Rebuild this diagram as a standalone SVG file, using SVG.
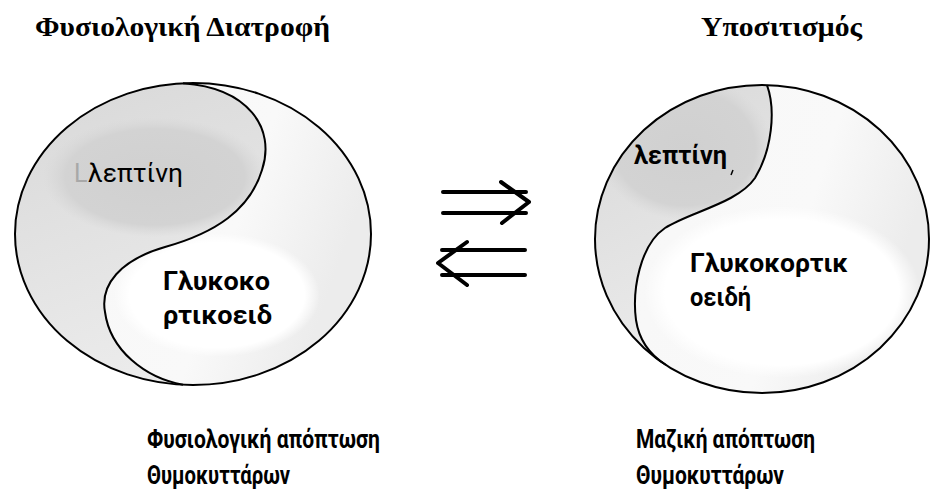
<svg xmlns="http://www.w3.org/2000/svg" width="931" height="490" viewBox="0 0 931 490">
<style>
.title{font-family:"Liberation Serif","Times New Roman",serif;font-weight:bold;font-size:27px;fill:#000}
.cap{font-family:Roboto,"Open Sans",sans-serif;font-weight:bold;font-size:26px;fill:#000}
.lbl{font-family:Roboto,"Open Sans",sans-serif;font-size:25px;fill:#000}
.lblb{font-family:Roboto,"Open Sans",sans-serif;font-weight:bold;font-size:25px;fill:#000}
.outline{fill:none;stroke:#000;stroke-width:2}
.arrow{fill:none;stroke:#000;stroke-width:4;stroke-linecap:round;stroke-linejoin:round}
</style>
<defs>
<linearGradient id="bgR" x1="0" y1="0" x2="1" y2="0.3">
<stop offset="0" stop-color="#f7f7f7"/><stop offset="0.7" stop-color="#f9f9f9"/><stop offset="1" stop-color="#ececec"/>
</linearGradient>
<linearGradient id="grayL" x1="0" y1="0" x2="0.3" y2="1">
<stop offset="0" stop-color="#d8d8d8"/><stop offset="1" stop-color="#ebebeb"/>
</linearGradient>
<radialGradient id="lobeG">
<stop offset="0" stop-color="#d0d0d0"/><stop offset="0.8" stop-color="#d3d3d3"/><stop offset="1" stop-color="#d8d8d8" stop-opacity="0"/>
</radialGradient>
<radialGradient id="whiteG">
<stop offset="0" stop-color="#fff"/><stop offset="0.85" stop-color="#fff"/><stop offset="1" stop-color="#fff" stop-opacity="0"/>
</radialGradient>
<clipPath id="clipL"><path d="M183,83.24 C248,88 276,128 262,170 C250,210 215,233 165,247 C120,260 100,285 105,312 C110,350 145,378 183,384.76 A178 151 0 0 1 183 83.24 Z"/></clipPath>
<clipPath id="clipLR"><path d="M183,83.24 C248,88 276,128 262,170 C250,210 215,233 165,247 C120,260 100,285 105,312 C110,350 145,378 183,384.76 A178 151 0 1 0 183 83.24 Z"/></clipPath>
<clipPath id="clipR"><path d="M767,85.07 C776,110 772,150 755,178 C738,203 690,212 665,228 C640,245 632,290 636,320 C639,340 650,355 666,365 A167 154 0 0 1 767 85.07 Z"/></clipPath>
<clipPath id="clipRR"><path d="M767,85.07 C776,110 772,150 755,178 C738,203 690,212 665,228 C640,245 632,290 636,320 C639,340 650,355 666,365 A167 154 0 1 0 767 85.07 Z"/></clipPath>
</defs>
<rect width="931" height="490" fill="#fff"/>

<g id="title-left"><text class="title" x="35" y="36" textLength="295" lengthAdjust="spacingAndGlyphs">Φυσιολογική Διατροφή</text></g>
<g id="title-right"><text class="title" x="701" y="36" textLength="161" lengthAdjust="spacingAndGlyphs">Υποσιτισμός</text></g>

<g id="node-left">
<ellipse cx="193" cy="234" rx="178" ry="151" fill="url(#bgR)"/>
<path d="M183,83.24 C248,88 276,128 262,170 C250,210 215,233 165,247 C120,260 100,285 105,312 C110,350 145,378 183,384.76 A178 151 0 0 1 183 83.24 Z" fill="url(#grayL)"/>
<g clip-path="url(#clipL)"><ellipse cx="155" cy="177" rx="112" ry="60" fill="url(#lobeG)"/></g>
<g clip-path="url(#clipLR)"><ellipse cx="217" cy="295" rx="103" ry="62" fill="url(#whiteG)"/></g>
<ellipse class="outline" cx="193" cy="234" rx="178" ry="151"/>
<path class="outline" d="M183,83.24 C248,88 276,128 262,170 C250,210 215,233 165,247 C120,260 100,285 105,312 C110,350 145,378 183,384.76"/>
<text x="74" y="182" class="lbl" style="fill:#a8a8a8">L</text>
<text class="lbl" x="88" y="182" textLength="95" lengthAdjust="spacingAndGlyphs">λεπτίνη</text>
<text class="lblb" x="163" y="290" textLength="107" lengthAdjust="spacingAndGlyphs">Γλυκοκο</text>
<text class="lblb" x="163" y="324" textLength="109" lengthAdjust="spacingAndGlyphs">ρτικοειδ</text>
</g>

<g id="node-right">
<ellipse cx="762" cy="239" rx="167" ry="154" fill="url(#bgR)"/>
<path d="M767,85.07 C776,110 772,150 755,178 C738,203 690,212 665,228 C640,245 632,290 636,320 C639,340 650,355 666,365 A167 154 0 0 1 767 85.07 Z" fill="url(#grayL)"/>
<g clip-path="url(#clipR)"><ellipse cx="685" cy="148" rx="88" ry="72" fill="url(#lobeG)"/></g>
<g clip-path="url(#clipRR)"><ellipse cx="782" cy="292" rx="138" ry="86" fill="url(#whiteG)"/></g>
<ellipse class="outline" cx="762" cy="239" rx="167" ry="154"/>
<path class="outline" d="M767,85.07 C776,110 772,150 755,178 C738,203 690,212 665,228 C640,245 632,290 636,320 C639,340 650,355 666,365"/>
<text class="lblb" x="634" y="164" textLength="93" lengthAdjust="spacingAndGlyphs">λεπτίνη</text>
<path d="M733,170 L731,175" stroke="#000" stroke-width="1.5"/>
<text class="lblb" x="690" y="272" textLength="158" lengthAdjust="spacingAndGlyphs">Γλυκοκορτικ</text>
<text class="lblb" x="690" y="306" textLength="61" lengthAdjust="spacingAndGlyphs">οειδή</text>
</g>

<g id="connectors">
<path class="arrow" d="M443,192 H526 M443,213 H526 M501,182 L529,202 L502,223"/>
<path class="arrow" d="M442,250 H525 M442,275 H525 M467,242 L438,263 L467,285"/>
</g>

<g id="caption-left">
<text class="cap" x="147" y="448" textLength="233" lengthAdjust="spacingAndGlyphs">Φυσιολογική απόπτωση</text>
<text class="cap" x="147" y="484" textLength="143" lengthAdjust="spacingAndGlyphs">Θυμοκυττάρων</text>
</g>
<g id="caption-right">
<text class="cap" x="636" y="448" textLength="179" lengthAdjust="spacingAndGlyphs">Μαζική απόπτωση</text>
<text class="cap" x="636" y="484" textLength="148" lengthAdjust="spacingAndGlyphs">Θυμοκυττάρων</text>
</g>
</svg>
